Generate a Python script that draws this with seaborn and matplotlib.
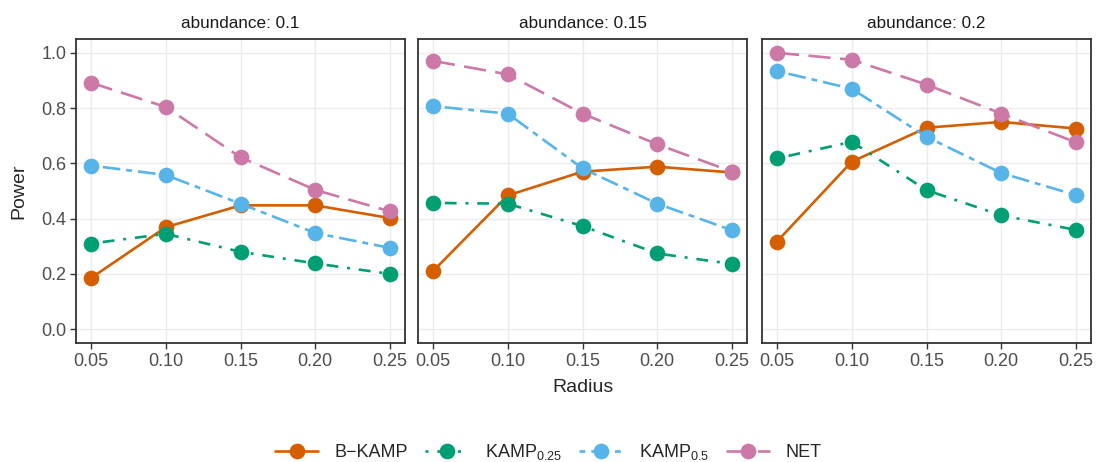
import numpy as np
import pandas as pd
import matplotlib
matplotlib.use("Agg")
import matplotlib.pyplot as plt
from matplotlib.lines import Line2D
import seaborn as sns


# Data
RADIUS = [0.05, 0.10, 0.15, 0.20, 0.25]
ABUNDANCE = ["0.1", "0.15", "0.2"]
METHODS = ["B-KAMP", "KAMP0.25", "KAMP0.5", "NET"]

# one list per abundance panel
B_KAMP = [[0.185, 0.369, 0.448, 0.448, 0.402],
          [0.210, 0.484, 0.570, 0.588, 0.567],
          [0.317, 0.606, 0.729, 0.750, 0.726]]
KAMP_025 = [[0.310, 0.345, 0.280, 0.238, 0.200],
            [0.457, 0.454, 0.373, 0.274, 0.236],
            [0.618, 0.678, 0.503, 0.412, 0.359]]
KAMP_05 = [[0.592, 0.558, 0.454, 0.348, 0.294],
           [0.807, 0.780, 0.582, 0.454, 0.358],
           [0.934, 0.870, 0.696, 0.565, 0.485]]
NET = [[0.892, 0.804, 0.622, 0.504, 0.426],
       [0.971, 0.922, 0.780, 0.669, 0.570],
       [1.000, 0.975, 0.885, 0.780, 0.676]]

LEGEND_LABELS = ["B\u2212KAMP", "KAMP$_{0.25}$", "KAMP$_{0.5}$", "NET"]


# Build long data frame
rows = []
for m, vals in zip(METHODS, [B_KAMP, KAMP_025, KAMP_05, NET]):
    for a, series in zip(ABUNDANCE, vals):
        for r, v in zip(RADIUS, series):
            rows.append({"method": m, "abundance": a, "radius": r, "power": v})
df = pd.DataFrame(rows)


# Styles
sns.set_theme(style="white")
plt.rcParams["font.family"] = ["Liberation Sans", "DejaVu Sans"]
plt.rcParams["mathtext.default"] = "regular"

palette = {"B-KAMP": "#D55E00", "KAMP0.25": "#009E73",
           "KAMP0.5": "#56B4E9", "NET": "#CC79A7"}
# ggplot-like dotdash / twodash / longdash, a bit stretched
k = 1.12
dashes = {"B-KAMP": "", "KAMP0.25": (1 * k, 3 * k, 4 * k, 3 * k),
          "KAMP0.5": (2 * k, 2 * k, 6 * k, 2 * k), "NET": (7.5 * k, 3.2 * k)}
markers = {m: "o" for m in METHODS}
LW = 1.9
MS = 11.3

W, H = 1097, 462
fig = plt.figure(figsize=(W / 100, H / 100), dpi=100)
lefts = [76, 418, 762]
pw, top, bottom = 329, 39, 343

for i, a in enumerate(ABUNDANCE):
    ax = fig.add_axes([lefts[i] / W, 1 - bottom / H, pw / W, (bottom - top) / H])
    sub = df[df["abundance"] == a]
    sns.lineplot(data=sub, x="radius", y="power", hue="method", style="method",
                 hue_order=METHODS, style_order=METHODS, palette=palette,
                 dashes=dashes, markers=markers, linewidth=LW, markersize=MS,
                 markeredgewidth=0, legend=False, ax=ax)
    ax.set_xlim(0.04, 0.26)
    ax.set_ylim(-0.05, 1.05)
    ax.set_xticks(RADIUS)
    ax.set_xticklabels(["0.05", "0.10", "0.15", "0.20", "0.25"])
    ax.set_yticks([0.0, 0.2, 0.4, 0.6, 0.8, 1.0])
    ax.set_yticklabels(["0.0", "0.2", "0.4", "0.6", "0.8", "1.0"])
    ax.grid(True, color="#EBEBEB", linewidth=1.0)
    ax.set_axisbelow(True)
    for s in ax.spines.values():
        s.set_color("#333333")
        s.set_linewidth(1.3)
    ax.tick_params(axis="both", colors="#333333", labelcolor="#4D4D4D",
                   labelsize=13, length=4, width=1, direction="out",
                   bottom=True, left=True, pad=3)
    if i > 0:
        ax.tick_params(axis="y", left=False, labelleft=False)
    ax.set_xlabel("")
    ax.set_ylabel("")
    ax.set_title(f"abundance: {a}", fontsize=12.3, color="#1A1A1A", pad=8)

fig.text(583 / W, 1 - 387 / H, "Radius", ha="center", va="center", fontsize=14)
fig.text(19 / W, 1 - 191 / H, "Power", ha="center", va="center",
         rotation=90, fontsize=14)

handles = [Line2D([0], [0], color=palette[m], linewidth=LW, marker="o",
                  markersize=MS, markeredgewidth=0,
                  dashes=dashes[m] if dashes[m] else (None, None),
                  linestyle="-")
           for m in METHODS]
fig.legend(handles, LEGEND_LABELS, loc="center", ncol=4,
           bbox_to_anchor=(0.5, 1 - 452 / H), frameon=False, fontsize=13,
           handlelength=2.4, handletextpad=0.9, columnspacing=0.95,
           borderaxespad=0, borderpad=0.1)

fig.savefig("out.png", dpi=100)
